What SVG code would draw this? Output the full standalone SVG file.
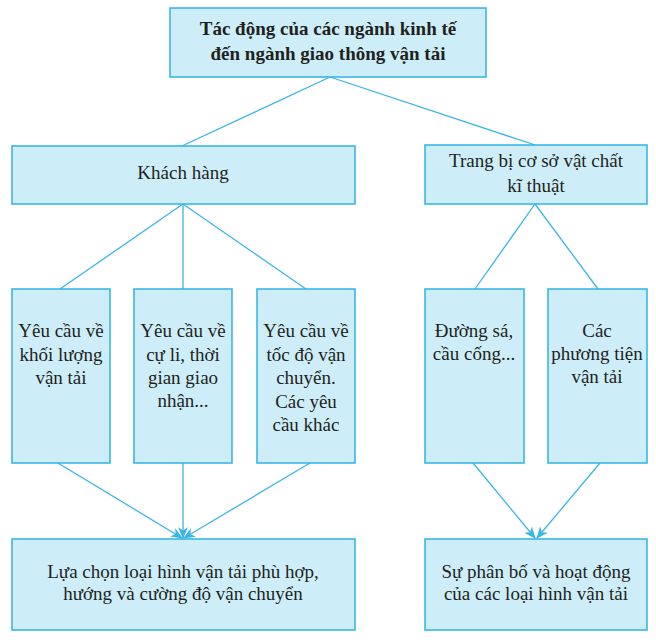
<svg xmlns="http://www.w3.org/2000/svg" width="656" height="643" viewBox="0 0 656 643">
<style>
.box{fill:#cdeef9;stroke:#3ab6e6;stroke-width:1.6}
text{font-family:'Liberation Serif',serif;font-size:19px;fill:#231f20;text-anchor:middle}
.b{font-weight:bold}
.c{stroke:#3ab6e6;stroke-width:1.3;fill:none}
</style>
<defs>
<marker id="ah" viewBox="0 0 12 10" refX="11" refY="5" markerWidth="12" markerHeight="10" markerUnits="userSpaceOnUse" orient="auto">
<path d="M0,0 L12,5 L0,10 L3.5,5 z" fill="#3ab6e6"/>
</marker>
</defs>
<rect width="656" height="643" fill="#ffffff"/>
<g id="connectors">
<line class="c" x1="330" y1="77" x2="182" y2="146"/>
<line class="c" x1="330" y1="77" x2="535" y2="145"/>
<line class="c" x1="183" y1="204" x2="60" y2="289"/>
<line class="c" x1="183" y1="204" x2="183" y2="289"/>
<line class="c" x1="183" y1="204" x2="306" y2="289"/>
<line class="c" x1="535" y1="204" x2="475" y2="289"/>
<line class="c" x1="535" y1="204" x2="598" y2="289"/>
<line class="c" x1="58" y1="463" x2="182" y2="538" marker-end="url(#ah)"/>
<line class="c" x1="183" y1="463" x2="183" y2="538" marker-end="url(#ah)"/>
<line class="c" x1="310" y1="463" x2="184" y2="538" marker-end="url(#ah)"/>
<line class="c" x1="473" y1="463" x2="535" y2="538" marker-end="url(#ah)"/>
<line class="c" x1="600" y1="463" x2="537" y2="538" marker-end="url(#ah)"/>
</g>
<g id="n-title">
<rect class="box" x="170" y="8" width="316" height="69"/>
<text class="b" x="328" y="35">Tác động của các ngành kinh tế</text>
<text class="b" x="328" y="60">đến ngành giao thông vận tải</text>
</g>
<g id="n-khach">
<rect class="box" x="12" y="146" width="343" height="58"/>
<text x="183" y="179">Khách hàng</text>
</g>
<g id="n-trangbi">
<rect class="box" x="425" y="145" width="222" height="59"/>
<text x="536" y="167">Trang bị cơ sở vật chất</text>
<text x="536" y="192">kĩ thuật</text>
</g>
<g id="n-kl">
<rect class="box" x="12" y="289" width="98" height="174"/>
<text x="61" y="337">Yêu cầu về</text>
<text x="61" y="361">khối lượng</text>
<text x="61" y="384">vận tải</text>
</g>
<g id="n-culi">
<rect class="box" x="134" y="289" width="98" height="174"/>
<text x="183" y="337">Yêu cầu về</text>
<text x="183" y="361">cự li, thời</text>
<text x="183" y="384">gian giao</text>
<text x="183" y="407">nhận...</text>
</g>
<g id="n-tocdo">
<rect class="box" x="257" y="289" width="98" height="174"/>
<text x="306" y="337">Yêu cầu về</text>
<text x="306" y="361">tốc độ vận</text>
<text x="306" y="384">chuyển.</text>
<text x="306" y="408">Các yêu</text>
<text x="306" y="431">cầu khác</text>
</g>
<g id="n-duongsa">
<rect class="box" x="425" y="289" width="99" height="174"/>
<text x="474" y="337">Đường sá,</text>
<text x="474" y="360">cầu cống...</text>
</g>
<g id="n-phuongtien">
<rect class="box" x="548" y="289" width="99" height="174"/>
<text x="597" y="337">Các</text>
<text x="597" y="360">phương tiện</text>
<text x="597" y="383">vận tải</text>
</g>
<g id="n-luachon">
<rect class="box" x="12" y="539" width="343" height="91"/>
<text x="183" y="578">Lựa chọn loại hình vận tải phù hợp,</text>
<text x="183" y="600">hướng và cường độ vận chuyển</text>
</g>
<g id="n-phanbo">
<rect class="box" x="425" y="539" width="222" height="91"/>
<text x="536" y="578">Sự phân bố và hoạt động</text>
<text x="536" y="600">của các loại hình vận tải</text>
</g>
</svg>
